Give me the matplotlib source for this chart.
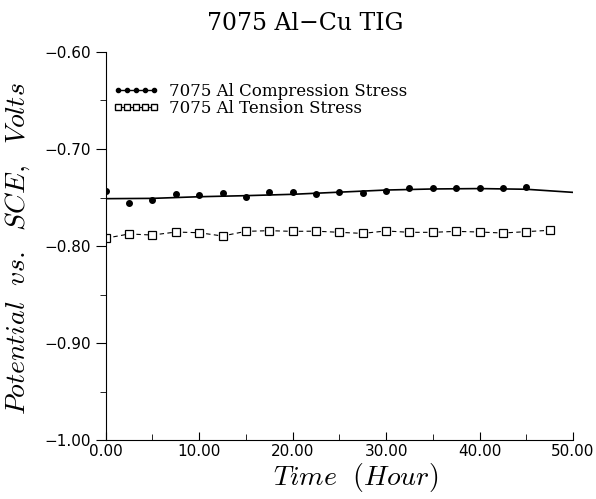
import numpy as np
import matplotlib
matplotlib.use("Agg")
import matplotlib.pyplot as plt
from matplotlib.lines import Line2D

# Time (hour)
comp_time = [0, 2.5, 5, 7.5, 10, 12.5, 15, 17.5, 20, 22.5, 25, 27.5,
             30, 32.5, 35, 37.5, 40, 42.5, 45]
comp_volts = [-0.7433, -0.7553, -0.7526, -0.7467, -0.7478, -0.7450, -0.7498,
              -0.7440, -0.7447, -0.7467, -0.7440, -0.7450, -0.7430, -0.7405,
              -0.7405, -0.7400, -0.7405, -0.7405, -0.7395]

# fitted curve for compression stress
fit_time = [0, 5, 10, 15, 20, 25, 30, 35, 40, 45, 50]
fit_volts = [-0.7512, -0.7509, -0.7492, -0.7481, -0.7467, -0.7445, -0.7423,
             -0.7412, -0.7408, -0.7415, -0.7447]

tens_time = [0, 2.5, 5, 7.5, 10, 12.5, 15, 17.5, 20, 22.5, 25, 27.5,
             30, 32.5, 35, 37.5, 40, 42.5, 45, 47.5]
tens_volts = [-0.7920, -0.7876, -0.7887, -0.7856, -0.7863, -0.7897, -0.7849,
              -0.7842, -0.7849, -0.7847, -0.7859, -0.7870, -0.7845, -0.7859,
              -0.7859, -0.7849, -0.7856, -0.7866, -0.7852, -0.7838]

plt.rcParams['mathtext.fontset'] = 'cm'

fig = plt.figure(figsize=(5.96, 4.99), dpi=100)
ax = fig.add_axes([0.1773, 0.1182, 0.7841, 0.7776])

ax.plot(fit_time, fit_volts, color='black', lw=1.2)
ax.plot(comp_time, comp_volts, 'o', color='black', ms=4, ls='none')
ax.plot(tens_time, tens_volts, color='black', lw=0.8, ls=(0, (4, 3)),
        marker='s', ms=6, mfc='white', mec='black', mew=0.9)

ax.set_xlim(0, 50)
ax.set_ylim(-1.0, -0.6)
ax.set_xticks(np.arange(0, 51, 10))
ax.set_xticks(np.arange(0, 51, 5), minor=True)
ax.set_yticks(np.arange(-1.0, -0.59, 0.1))
ax.set_yticks(np.arange(-1.0, -0.59, 0.05), minor=True)
ax.xaxis.set_major_formatter(plt.FormatStrFormatter('%.2f'))
ax.yaxis.set_major_formatter(plt.FuncFormatter(lambda v, p: ('%.2f' % v).replace('-', '\u2212')))

for s in ['top', 'right']:
    ax.spines[s].set_visible(False)
ax.tick_params(axis='x', which='both', direction='in', labelsize=11, pad=3)
ax.tick_params(axis='x', which='major', length=6)
ax.tick_params(axis='x', which='minor', length=4)
ax.tick_params(axis='y', which='both', direction='out', labelsize=11)
ax.tick_params(axis='y', which='major', length=7)
ax.tick_params(axis='y', which='minor', length=4)

# axis labels placed like the original
fig.text(0.597, 0.043, r'$Time\ \ (Hour)$', ha='center', va='center', fontsize=20)
fig.text(0.030, 0.501, r'$Potential\ \ vs.\ \ SCE,\ \ Volts$', ha='center', va='center',
         rotation=90, fontsize=20)

fig.text(0.512, 0.953, '7075 Al\u2212Cu TIG', ha='center', va='center',
         fontsize=17, family='DejaVu Serif')

h1 = Line2D([], [], color='black', lw=1.0, marker='o', ms=3)
h2 = Line2D([], [], color='black', lw=0.8, marker='s', ms=5, mfc='white', mec='black')
ax.legend([h1, h2], ['7075 Al Compression Stress', '7075 Al Tension Stress'],
          loc='upper left', bbox_to_anchor=(0.015, 0.92), numpoints=5,
          handlelength=2.8, handletextpad=0.6, labelspacing=0.0,
          frameon=False, borderaxespad=0, borderpad=0,
          prop={'family': 'DejaVu Serif', 'size': 12})

fig.savefig('out.png', dpi=100)
